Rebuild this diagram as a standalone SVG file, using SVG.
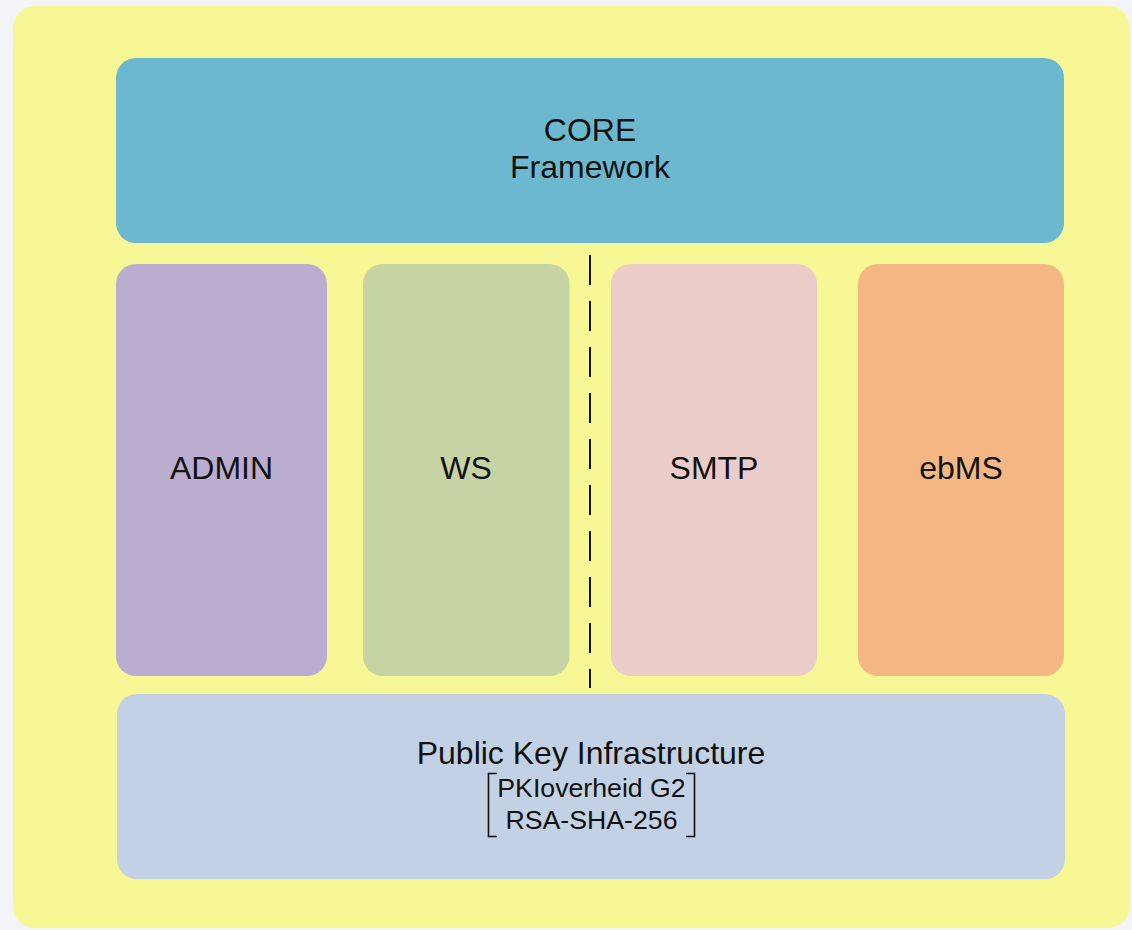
<svg xmlns="http://www.w3.org/2000/svg" width="1132" height="930" viewBox="0 0 1132 930">
  <style>
    .lbl { font-family: "Liberation Sans", Arial, sans-serif; font-size: 32px; fill: #111111; text-anchor: middle; }
    .sub { font-family: "Liberation Sans", Arial, sans-serif; font-size: 26.7px; fill: #111111; text-anchor: middle; }
    .box { stroke: none; }
  </style>
  <rect x="0" y="0" width="1132" height="930" fill="#f3f4f8"/>
  <rect id="container" x="13" y="6" width="1117" height="922" rx="22" fill="#f8f796"/>

  <g id="core">
    <rect class="box" x="116" y="58" width="948" height="185" rx="20" fill="#6cb8cf"/>
    <text class="lbl" x="590" y="141">CORE</text>
    <text class="lbl" x="590" y="178">Framework</text>
  </g>

  <g id="admin">
    <rect class="box" x="116" y="264" width="211" height="412" rx="20" fill="#bbadd0"/>
    <text class="lbl" x="221.5" y="479">ADMIN</text>
  </g>

  <g id="ws">
    <rect class="box" x="363" y="264" width="206.5" height="412" rx="20" fill="#c6d4a4"/>
    <text class="lbl" x="466" y="479">WS</text>
  </g>

  <g id="smtp">
    <rect class="box" x="611" y="264" width="206" height="412" rx="20" fill="#eaccc9"/>
    <text class="lbl" x="714" y="479">SMTP</text>
  </g>

  <g id="ebms">
    <rect class="box" x="858" y="264" width="206" height="412" rx="20" fill="#f4b784"/>
    <text class="lbl" x="961" y="479">ebMS</text>
  </g>

  <g id="pki">
    <rect class="box" x="117" y="694" width="948" height="185" rx="20" fill="#c2d1e3"/>
    <text class="lbl" x="591" y="764">Public Key Infrastructure</text>
    <text class="sub" x="591.5" y="797">PKIoverheid G2</text>
    <text class="sub" x="591.5" y="829">RSA-SHA-256</text>
    <path d="M497 773.5 H488.5 V836.5 H497 M686 773.5 H694.5 V836.5 H686" fill="none" stroke="#111111" stroke-width="1.6"/>
  </g>

  <g id="connectors">
    <line x1="590" y1="255" x2="590" y2="688" stroke="#111111" stroke-width="2" stroke-dasharray="30 16"/>
  </g>
</svg>
